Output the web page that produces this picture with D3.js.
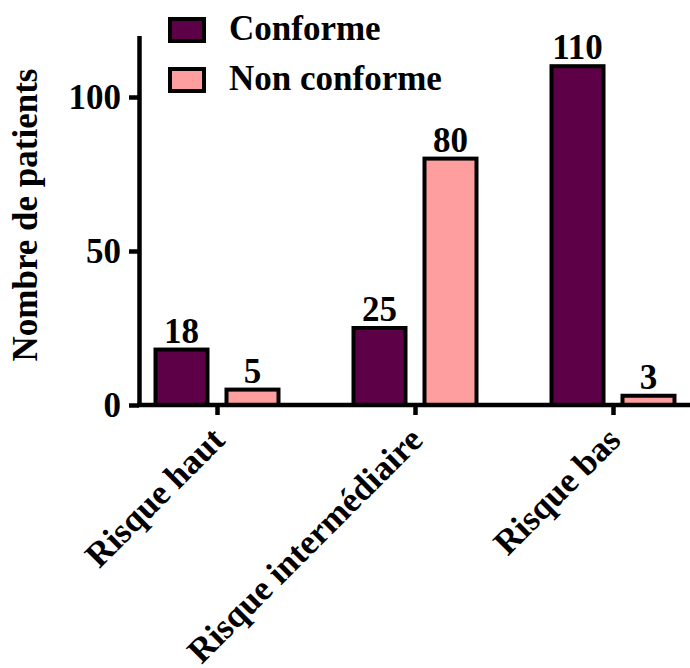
<!DOCTYPE html>
<html><head><meta charset="utf-8">
<script src="https://cdn.jsdelivr.net/npm/d3@7"></script>
<style>body{margin:0;background:#fff}svg{display:block}text{font-family:"Liberation Serif","Times New Roman",serif;font-weight:bold;fill:#000}</style>
</head><body><div id="chart"></div>
<script>
const categories = ["Risque haut", "Risque intermédiaire", "Risque bas"];
const series = ["Conforme", "Non conforme"];
const conforme = [18, 25, 110];
const nonConforme = [5, 80, 3];
const yTicks = [0, 50, 100];
const colors = ["#5E0048", "#FF9E9E"];

const W = 690, H = 668;
const svg = d3.select("#chart").append("svg").attr("width", W).attr("height", H);
const FS = 35;

const y = d3.scaleLinear().domain([0, 120]).range([405, 35.4]);
const x0 = d3.scaleBand().domain(categories).range([118, 712]).padding(0);
const x1 = d3.scaleBand().domain(series).range([37.5, 160.5]).paddingInner(19/71).paddingOuter(0);
const color = d3.scaleOrdinal().domain(series).range(colors);

const data = categories.map((c, i) => ({cat: c, vals: [
  {s: series[0], v: conforme[i]}, {s: series[1], v: nonConforme[i]}]}));

// bars
const g = svg.append("g");
const groups = g.selectAll("g.grp").data(data).join("g").attr("class","grp")
  .attr("transform", d => `translate(${x0(d.cat)},0)`);
groups.selectAll("rect").data(d => d.vals).join("rect")
  .attr("x", d => x1(d.s)).attr("width", x1.bandwidth())
  .attr("y", d => y(d.v)).attr("height", d => y(0) - y(d.v))
  .attr("fill", d => color(d.s)).attr("stroke", "#000").attr("stroke-width", 4);
groups.selectAll("text.val").data(d => d.vals).join("text").attr("class","val")
  .attr("x", d => x1(d.s) + x1.bandwidth()/2).attr("y", d => y(d.v) - 7)
  .attr("text-anchor", "middle").attr("font-size", FS).text(d => d.v);

// y axis
const yAxis = svg.append("g").attr("transform", "translate(139,0)")
  .call(d3.axisLeft(y).tickValues(yTicks).tickSize(10).tickPadding(8).tickSizeOuter(0));
yAxis.select(".domain").attr("stroke-width", 4.5);
yAxis.selectAll(".tick line").attr("stroke-width", 4.5);
yAxis.selectAll(".tick text").attr("font-size", FS).attr("font-family", null).attr("dy", "0.34em");

// x axis
const xAxis = svg.append("g").attr("transform", "translate(0,405)")
  .call(d3.axisBottom(d3.scalePoint().domain(categories).range([x0(categories[0]) + x0.bandwidth()/2, x0(categories[2]) + x0.bandwidth()/2])).tickSize(10).tickSizeOuter(0));
xAxis.select(".domain").remove();
xAxis.append("line").attr("x1", 137).attr("x2", 690).attr("stroke", "#000").attr("stroke-width", 4.5);
xAxis.selectAll(".tick line").attr("stroke-width", 4.5);
xAxis.selectAll(".tick text").attr("font-size", FS).attr("font-family", null)
  .attr("text-anchor", "end").attr("y", 0).attr("dy", 0)
  .attr("transform", "translate(9,37) rotate(-45)");

// y title
svg.append("text").attr("transform", "translate(37,215) rotate(-90)")
  .attr("text-anchor", "middle").attr("font-size", FS).text("Nombre de patients");

// legend
const leg = svg.append("g");
series.forEach((s, i) => {
  leg.append("rect").attr("x", 170).attr("y", 19 + i*50).attr("width", 34).attr("height", 22)
    .attr("fill", colors[i]).attr("stroke", "#000").attr("stroke-width", 4);
  leg.append("text").attr("x", 229).attr("y", 40 + i*50).attr("font-size", FS).text(s);
});
</script></body></html>
